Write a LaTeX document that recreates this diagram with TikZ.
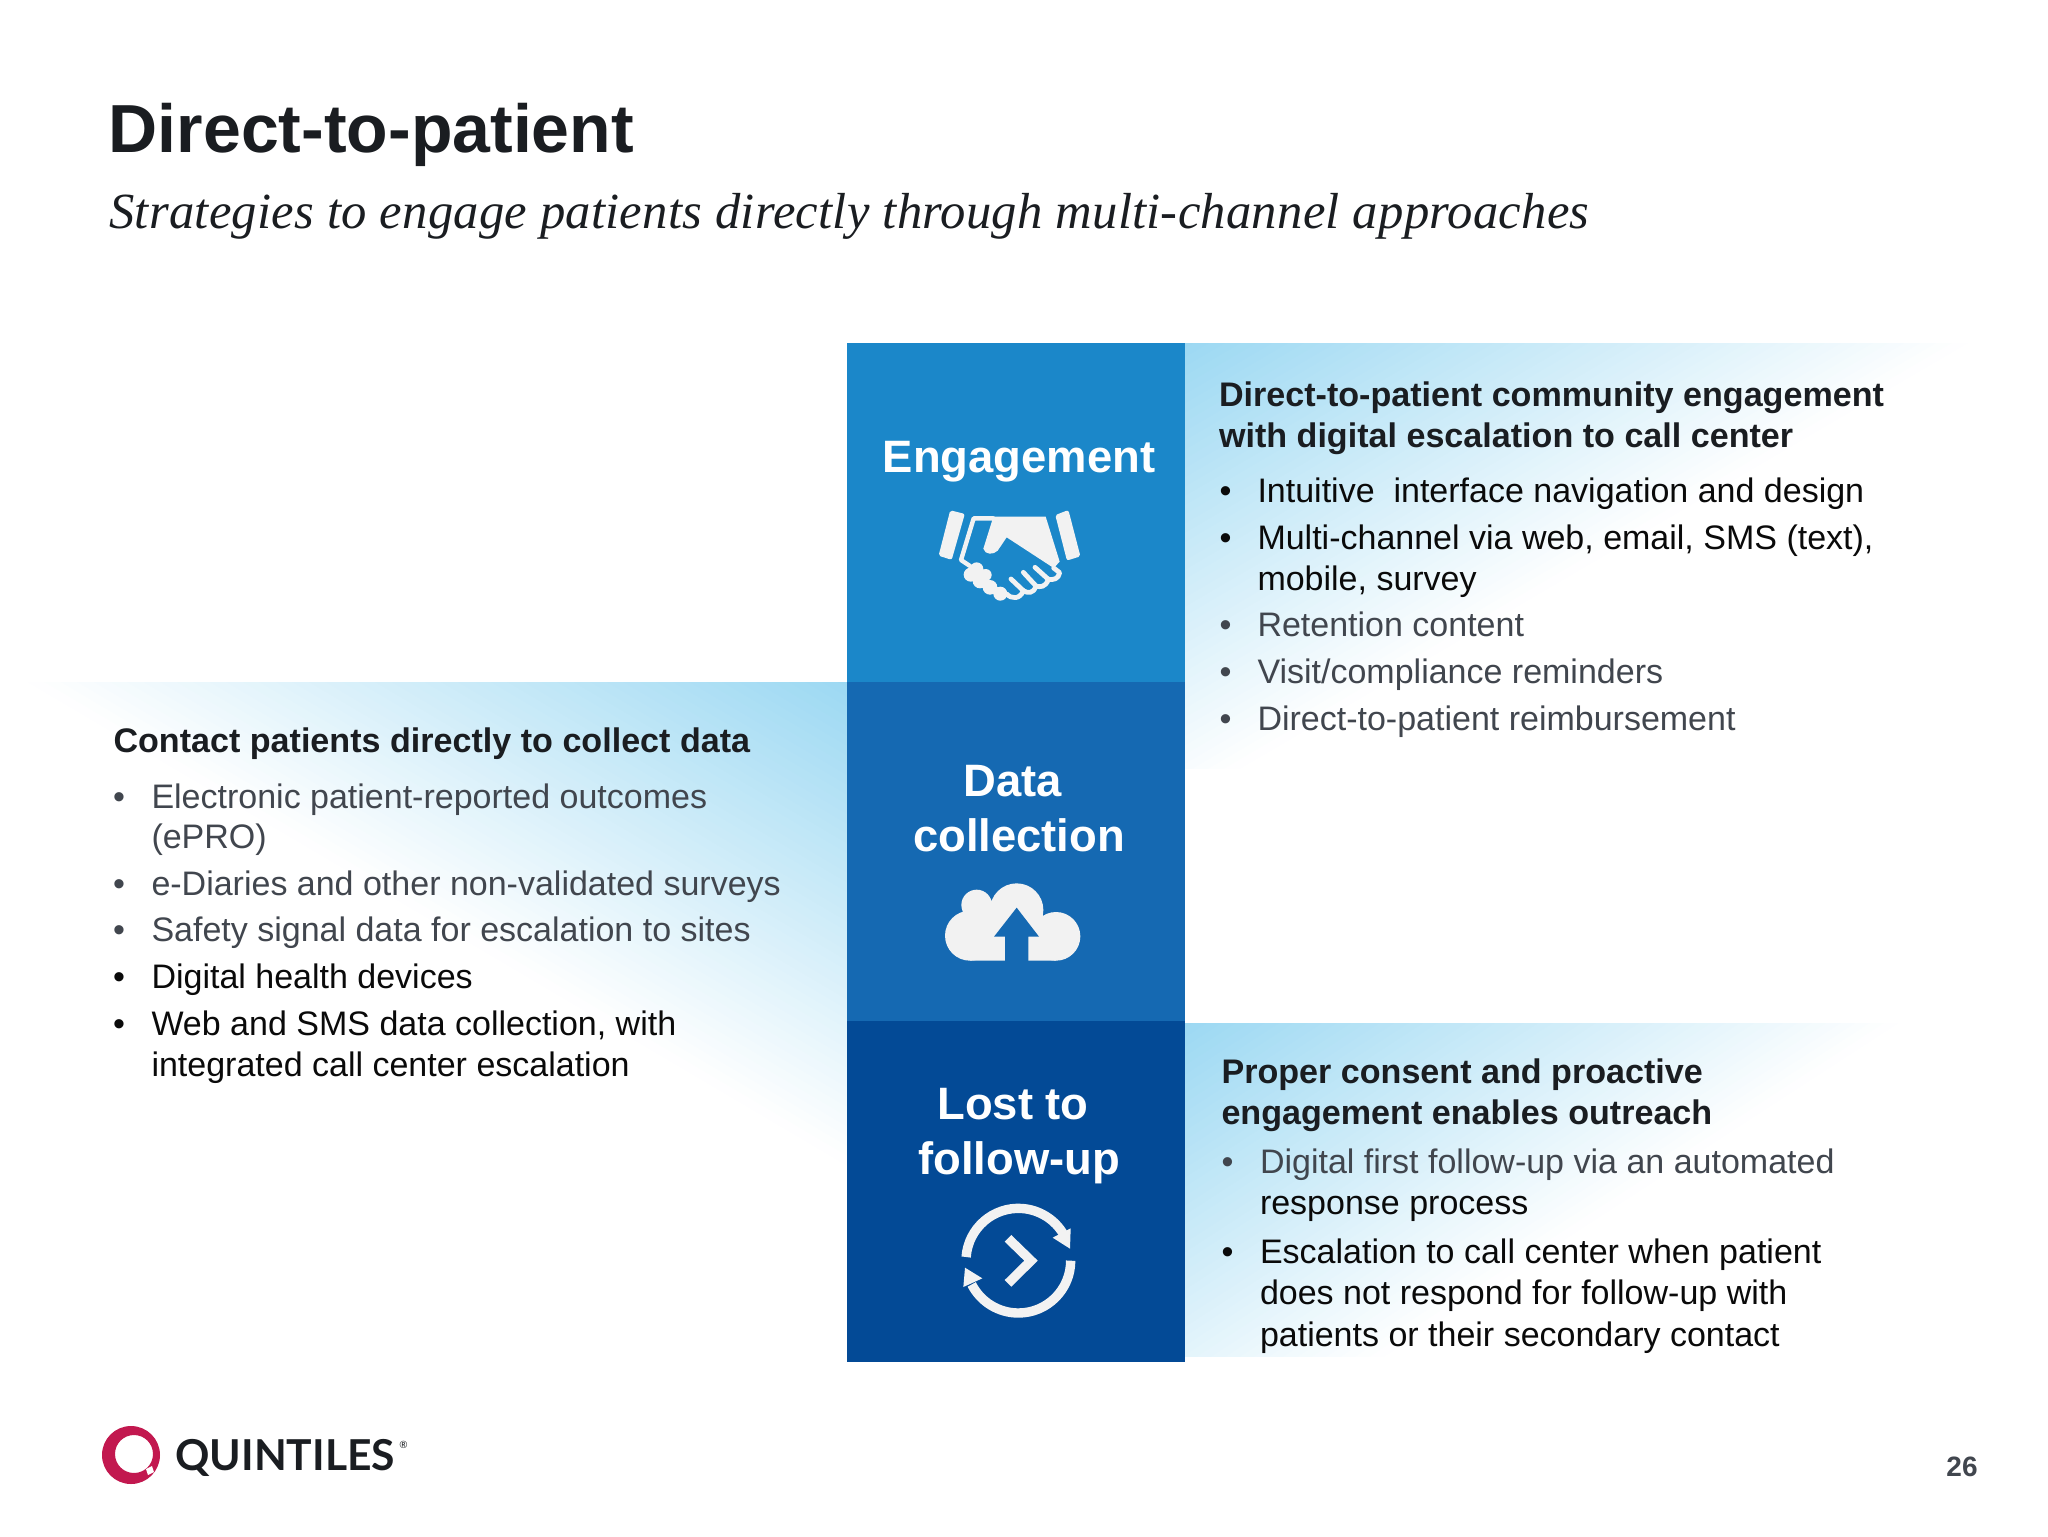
\documentclass[tikz,border=0pt]{standalone}
\usepackage{fontspec}
\setmainfont{Liberation Sans}
\newfontfamily\logofont{Lato}
\newfontfamily\subfont[LetterSpace=0.5]{Liberation Serif}
\definecolor{pbl}{HTML}{9BD8F2}
\definecolor{boxa}{HTML}{1B87C9}
\definecolor{boxb}{HTML}{1569B2}
\definecolor{boxc}{HTML}{034A96}
\definecolor{icon}{HTML}{F2F2F2}
\definecolor{inkd}{HTML}{1A1D21}
\definecolor{inkg}{HTML}{41464E}
\definecolor{inkk}{HTML}{0A0A0A}
\definecolor{ringc}{HTML}{C2184F}
\tikzset{
  x=0.5pt,y=-0.5pt,
  txt/.style={inner sep=0pt,outer sep=0pt,anchor=base west,font=\fontsize{17}{20}\selectfont},
  head/.style={txt,font=\fontsize{17.05}{20}\selectfont\bfseries,text=inkd},
  blk/.style={txt,text=inkk},
  gry/.style={txt,text=inkg},
  boxcap/.style={inner sep=0pt,outer sep=0pt,anchor=base,text=white,font=\fontsize{22.7}{26}\selectfont\bfseries},
}
% #1 Cx, #2 Cy, #3 far x, #4 far y, #5 clip corner
\newcommand{\fadepanel}[5]{%
  \begin{scope}
    \clip (#1,#2) rectangle #5;
    \foreach \p in {1,3,...,99}{%
      \pgfmathsetmacro{\fr}{1-\p/100}%
      \fill[pbl!\p!white] (#1,#2) -- ({#1+\fr*(#3-#1)},#2) -- (#1,{#2+\fr*(#4-#2)}) -- cycle;
    }
  \end{scope}}
\begin{document}
\begin{tikzpicture}
\useasboundingbox (0,0) rectangle (2048,1536);
\fill[white] (0,0) rectangle (2048,1536);

% gradient panels
\fadepanel{1185}{343}{1975}{805}{(1975,768)}
\fadepanel{847}{682}{20}{1170}{(20,1170)}
\fadepanel{1185}{1023}{1905}{1490}{(1905,1356)}

% column boxes
\fill[boxa] (847,343) rectangle (1185,682);
\fill[boxb] (847,682) rectangle (1185,1021);
\fill[boxc] (847,1021) rectangle (1185,1362);

% titles
\node[inner sep=0pt,anchor=base west,text=inkd,font=\fontsize{34}{40}\selectfont\bfseries] (title) at (108.5,152) {Direct-to-patient};
\node[inner sep=0pt,anchor=base west,text=inkd,font=\fontsize{25.32}{30}\subfont\itshape] (subtitle) at (109,228.5) {Strategies to engage patients directly through multi-channel approaches};

% box captions
\node[boxcap] (capa) at (1019,472) {Engagement};
\node[boxcap] (capb1) at (1012.5,796) {Data};
\node[boxcap] (capb2) at (1019,851) {collection};
\node[boxcap] (capc1) at (1013,1119) {Lost to};
\node[boxcap] (capc2) at (1019,1174) {follow-up};

% handshake icon
\begin{scope}[shift={(925,500)},x=0.16667pt,y=-0.16667pt]
  \fill[icon,draw=icon,line width=2pt,line join=round] (80,38) -- (112,46) -- (76,172) -- (48,163) -- cycle;
  \fill[icon,draw=icon,line width=2pt,line join=round] (398,49) -- (426,38) -- (459,165) -- (430,174) -- cycle;
  \fill[icon,line join=round] (205,50) -- (362,50) -- (404,185) -- (386,204) -- (245,112) -- (218,152) .. controls (205,165) and (180,165) .. (175,146) -- cycle;
  \draw[icon,line width=2.2pt,line join=round,line cap=round] (205,55) -- (146,55) -- (108,180) -- (135,198);
  \draw[icon,line width=2.4pt,line join=round,line cap=round] (386,204) -- (404,218) .. controls (400,238) and (385,240) .. (370,238) .. controls (362,262) and (345,262) .. (333,258) .. controls (325,282) and (308,280) .. (295,272) .. controls (285,298) and (260,298) .. (245,282);
  \draw[icon,line width=2.4pt,line cap=round] (330,202) -- (370,238);
  \draw[icon,line width=2.4pt,line cap=round] (295,217) -- (333,258);
  \draw[icon,line width=2.4pt,line cap=round] (258,237) -- (295,272);
  \fill[icon] (155,207) circle (20) (137,224) circle (21) (165,243) circle (22) (195,262) circle (22) (226,281) circle (21) (182,225) circle (18);
\end{scope}

% cloud upload icon
\begin{scope}[shift={(925,875)},x=0.16667pt,y=-0.16667pt]
  \fill[icon] (135,182) circle (75) (155,90) circle (46) (275,105) circle (80) (393,184) circle (73);
  \fill[icon] (160,90) -- (275,90) -- (393,184) -- (393,257) -- (135,257) -- (135,120) -- cycle;
  \fill[boxb] (275,98) -- (342,185) -- (310,185) -- (310,259) -- (240,259) -- (240,185) -- (207,185) -- cycle;
\end{scope}

% cycle icon
\begin{scope}[shift={(950,1195)},x=0.16667pt,y=-0.16667pt]
  \draw[icon,line width=4.7pt] (205,197) ++(184:157) arc[start angle=184,end angle=330,x radius=157,y radius=157];
  \draw[icon,line width=4.7pt] (362,197) arc[start angle=0,end angle=153,x radius=157,y radius=157];
  \fill[icon] (360,161) -- (362,100) -- (308,128) -- cycle;
  \fill[icon] (45,218) -- (40,276) -- (97,250) -- cycle;
  \draw[icon,line width=4.7pt] (174,130) -- (243,197) -- (174,265);
\end{scope}

% upper right text
\node[head] (ua) at (1219,406) {Direct-to-patient community engagement};
\node[head] (ub) at (1219,447) {with digital escalation to call center};
\node[blk] (uc0) at (1219.5,502) {•}; \node[blk] (uc) at (1257.5,502) {Intuitive\ \ interface navigation and design};
\node[blk] (ud0) at (1219.5,549) {•}; \node[blk] (ud) at (1257.5,549) {Multi-channel via web, email, SMS (text),};
\node[blk] (ue) at (1257.5,590) {mobile, survey};
\node[gry] (uf0) at (1219.5,636) {•}; \node[gry] (uf) at (1257.5,636) {Retention content};
\node[gry] (ug0) at (1219.5,683) {•}; \node[gry] (ug) at (1257.5,683) {Visit/compliance reminders};
\node[gry] (uh0) at (1219.5,730) {•}; \node[gry] (uh) at (1257.5,730) {Direct-to-patient reimbursement};

% left text
\node[head] (la) at (113.5,752) {Contact patients directly to collect data};
\node[gry] (lb0) at (113,808) {•}; \node[gry] (lb) at (151.5,808) {Electronic patient-reported outcomes};
\node[gry] (lc) at (151.5,848) {(ePRO)};
\node[gry] (ld0) at (113,895) {•}; \node[gry] (ld) at (151.5,895) {e-Diaries and other non-validated surveys};
\node[gry] (le0) at (113,941) {•}; \node[gry] (le) at (151.5,941) {Safety signal data for escalation to sites};
\node[blk] (lf0) at (113,988) {•}; \node[blk] (lf) at (151.5,988) {Digital health devices};
\node[blk] (lg0) at (113,1035) {•}; \node[blk] (lg) at (151.5,1035) {Web and SMS data collection, with};
\node[blk] (lh) at (151.5,1076) {integrated call center escalation};

% lower right text
\node[head] (ra) at (1221.5,1083) {Proper consent and proactive};
\node[head] (rb) at (1221.5,1124) {engagement enables outreach};
\node[gry] (rc0) at (1221.5,1173) {•}; \node[gry] (rc) at (1260,1173) {Digital first follow-up via an automated};
\node[blk] (rd) at (1260,1214) {response process};
\node[blk] (re0) at (1221.5,1263) {•}; \node[blk] (re) at (1260,1263) {Escalation to call center when patient};
\node[blk] (rf) at (1260,1304) {does not respond for follow-up with};
\node[blk] (rg) at (1260,1346) {patients or their secondary contact};

% logo
\fill[ringc,even odd rule] (131,1455) circle (29) (134,1454) circle (19);
\fill[white] (146,1469) -- (152,1466) -- (154,1472) -- (148,1475) -- cycle;
\node[inner sep=0pt,anchor=base west,text=inkd,font=\fontsize{21.3}{24}\logofont\bfseries] (logo) at (175,1470) {QUINTILES};
\node[inner sep=0pt,anchor=base west,text=inkd,font=\fontsize{5}{6}\logofont] (reg) at (399,1448) {®};

% page number
\node[inner sep=0pt,anchor=base east,text=inkg,font=\fontsize{14}{16}\selectfont\bfseries] (page) at (1978,1476) {26};
\end{tikzpicture}
\end{document}
